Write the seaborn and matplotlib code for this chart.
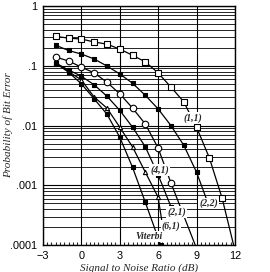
import numpy as np
import pandas as pd
import matplotlib
matplotlib.use("Agg")
import matplotlib.pyplot as plt
from matplotlib.ticker import FixedLocator, MultipleLocator, LogLocator, NullFormatter
import seaborn as sns

# ---- data ----
snr_11 = [-2, -1, 0, 1, 2, 3, 4, 5, 6, 7, 8, 9, 10, 11]
ber_11 = [0.31, 0.29, 0.28, 0.25, 0.23, 0.19, 0.15, 0.116, 0.076, 0.044, 0.025, 0.0094, 0.0029, 0.00061]
tail_11 = ([11.9], [0.0001])

snr_22 = [-2, -1, 0, 1, 2, 3, 4, 5, 6, 7, 8, 9]
ber_22 = [0.22, 0.18, 0.157, 0.13, 0.099, 0.073, 0.051, 0.032, 0.019, 0.010, 0.0047, 0.00166]
tail_22 = ([9.9], [0.0005])

snr_21 = [-2, -1, 0, 1, 2, 3, 4, 5, 6, 7]
ber_21 = [0.14, 0.12, 0.095, 0.076, 0.053, 0.034, 0.0196, 0.0106, 0.0042, 0.0011]
tail_21 = ([8.9], [0.0001])

snr_41 = [-2, -1, 0, 1, 2, 3, 4, 5, 6, 7]
ber_41 = [0.111, 0.085, 0.067, 0.048, 0.031, 0.018, 0.0094, 0.0044, 0.0015, 0.00044]
tail_41 = ([], [])

snr_61 = [-2, -1, 0, 1, 2, 3, 4, 5, 6]
ber_61 = [0.111, 0.08, 0.058, 0.030, 0.0196, 0.0094, 0.0044, 0.00166, 0.00063]
tail_61 = ([6.4], [0.00018])

snr_vit = [-2, -1, 0, 1, 2, 3, 4, 5, 6.2]
ber_vit = [0.111, 0.078, 0.050, 0.028, 0.0155, 0.0064, 0.0020, 0.00052, 0.0001]
tail_vit = ([], [])

labels = ["(1,1)", "(2,2)", "(2,1)", "(4,1)", "(6,1)", "Viterbi"]
label_x = [8.75, 9.95, 7.45, 6.1, 7.0, 5.3]
label_y = [0.0135, 0.0005, 0.00036, 0.0018, 0.00021, 0.00014]

x_ticks = [-3, 0, 3, 6, 9, 12]
y_ticks = [1e-4, 1e-3, 1e-2, 1e-1, 1]
y_ticklabels = [".0001", ".001", ".01", ".1", "1"]

# ---- styling ----
sns.set_theme(style="white")
plt.rcParams["font.family"] = ["Liberation Sans", "DejaVu Sans"]

fig = plt.figure(figsize=(2.70, 2.72), dpi=100)
ax = fig.add_axes([0.159, 0.099, 0.711, 0.879])
ax.set_yscale("log")
ax.set_xlim(-3, 12)
ax.set_ylim(1e-4, 1)

curves = [
    (snr_11, ber_11, tail_11, "s", "white", 14),
    (snr_22, ber_22, tail_22, "s", "black", 11),
    (snr_21, ber_21, tail_21, "o", "white", 22),
    (snr_41, ber_41, tail_41, "s", "black", 5),
    (snr_61, ber_61, tail_61, "^", "white", 9),
    (snr_vit, ber_vit, tail_vit, "s", "black", 10),
]

for xs, ys, tail, mk, fc, sz in curves:
    lx = list(xs) + list(tail[0])
    ly = list(ys) + list(tail[1])
    sns.lineplot(x=lx, y=ly, ax=ax, color="black", linewidth=0.9, sort=False,
                 estimator=None, zorder=3)
    sns.scatterplot(x=xs, y=ys, ax=ax, marker=mk, s=sz,
                    facecolor=fc, edgecolor="black", linewidth=0.8, zorder=4)

for t, lx, ly in zip(labels, label_x, label_y):
    ax.text(lx, ly, t, ha="center", va="center", fontsize=7,
            family=["Liberation Serif"], style="italic", fontweight="bold",
            zorder=5,
            bbox=dict(boxstyle="square,pad=0.1", facecolor="white", edgecolor="none"))

# grid
ax.xaxis.set_major_locator(FixedLocator(x_ticks))
ax.xaxis.set_minor_locator(MultipleLocator(1 / 3))
ax.yaxis.set_major_locator(FixedLocator(y_ticks))
ax.yaxis.set_minor_locator(LogLocator(base=10, subs=np.arange(2, 10), numticks=20))
ax.yaxis.set_minor_formatter(NullFormatter())
ax.set_yticklabels(y_ticklabels)
ax.grid(True, which="major", axis="both", color="black", linewidth=0.8)
ax.grid(True, which="minor", axis="y", color="black", linewidth=0.6)
ax.grid(False, which="minor", axis="x")
ax.tick_params(axis="both", which="major", labelsize=7.8, length=0, pad=4, colors="black")
ax.tick_params(axis="x", which="minor", direction="in", length=2, width=0.8, bottom=True)
ax.tick_params(axis="y", which="minor", length=0)
for sp in ax.spines.values():
    sp.set_color("black")
    sp.set_linewidth(1.0)

ax.set_xlabel("Signal to Noise Ratio (dB)", fontsize=8, family=["Liberation Serif"],
              style="italic", labelpad=2)
ax.set_ylabel("Probability of Bit Error", fontsize=8, family=["Liberation Serif"],
              style="italic")
ax.yaxis.set_label_coords(-0.155, 0.5)

fig.savefig("out.png", dpi=100)
